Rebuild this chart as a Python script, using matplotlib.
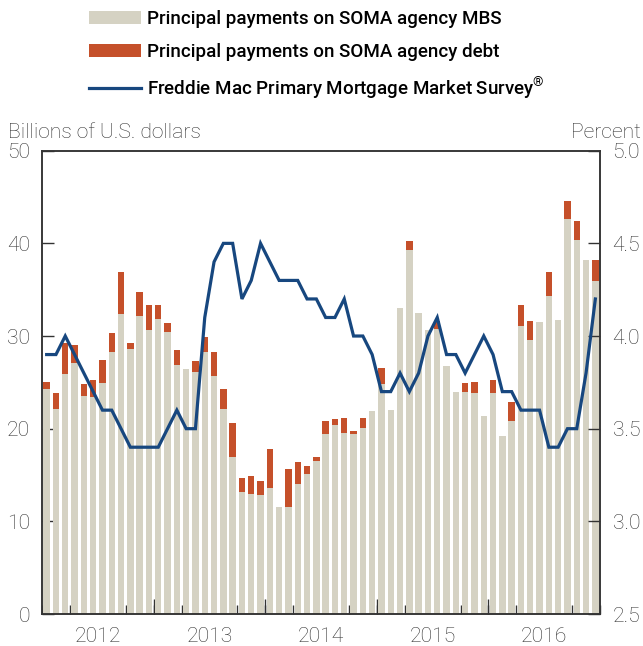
import matplotlib
matplotlib.use("Agg")
import matplotlib.pyplot as plt
import numpy as np
from matplotlib.lines import Line2D
from matplotlib.patches import Patch

# monthly, Jan 2012 .. Dec 2016 (billions of U.S. dollars)
MBS = [24.3, 22.1, 25.9, 27.1, 23.5, 23.4, 24.9, 28.3, 32.4, 28.6,
       32.2, 30.6, 31.8, 30.4, 26.9, 26.4, 26.1, 28.3, 25.7, 22.1,
       16.9, 13.2, 13.0, 12.8, 13.6, 11.5, 11.5, 14.0, 15.1, 16.5,
       19.4, 20.4, 19.5, 19.4, 20.1, 21.9, 24.8, 22.0, 33.0, 39.3,
       32.5, 30.7, 30.8, 26.8, 24.0, 24.0, 23.9, 21.4, 23.8, 19.2,
       20.8, 31.1, 29.6, 31.5, 34.3, 31.7, 42.6, 40.4, 38.2, 35.9]
DEBT = [0.7, 1.7, 3.3, 1.9, 1.3, 1.8, 2.5, 2.0, 4.5, 0.7,
        2.6, 2.8, 1.6, 1.0, 1.6, 0.0, 1.2, 1.6, 2.6, 2.2,
        3.7, 1.5, 1.9, 1.6, 4.2, 0.0, 4.1, 2.4, 0.9, 0.4,
        1.4, 0.6, 1.6, 0.3, 1.0, 0.0, 1.8, 0.0, 0.0, 1.0,
        0.0, 0.0, 0.8, 0.0, 0.0, 0.9, 1.1, 0.0, 1.5, 0.0,
        2.1, 2.2, 2.0, 0.0, 2.6, 0.0, 2.0, 2.0, 0.0, 2.3]
# Freddie Mac PMMS rate, percent
PMMS = [3.9, 3.9, 4.0, 3.9, 3.8, 3.7, 3.6, 3.6, 3.5, 3.4,
        3.4, 3.4, 3.4, 3.5, 3.6, 3.5, 3.5, 4.1, 4.4, 4.5,
        4.5, 4.2, 4.3, 4.5, 4.4, 4.3, 4.3, 4.3, 4.2, 4.2,
        4.1, 4.1, 4.2, 4.0, 4.0, 3.9, 3.7, 3.7, 3.8, 3.7,
        3.8, 4.0, 4.1, 3.9, 3.9, 3.8, 3.9, 4.0, 3.9, 3.7,
        3.7, 3.6, 3.6, 3.6, 3.4, 3.4, 3.5, 3.5, 3.8, 4.2]
YEARS = ["2012", "2013", "2014", "2015", "2016"]

LEGEND_LABELS = ["Principal payments on SOMA agency MBS",
                 "Principal payments on SOMA agency debt",
                 "Freddie Mac Primary Mortgage Market Survey$^{\u00ae}$"]

GRAY = "#d5d2c3"
ORANGE = "#c5502a"
NAVY = "#17477f"
INK = "#333333"
FS = 15.2

plt.rcParams["font.family"] = ["Roboto", "DejaVu Sans"]
plt.rcParams["mathtext.fontset"] = "custom"
plt.rcParams["mathtext.rm"] = "Roboto"

fig = plt.figure(figsize=(6.43, 6.46), dpi=100)
ax = fig.add_axes([42 / 643, 32 / 646, 558 / 643, 463.3 / 646])

x = np.arange(len(MBS))
ax.bar(x, MBS, width=0.68, color=GRAY, zorder=2)
ax.bar(x, DEBT, width=0.68, bottom=MBS, color=ORANGE, zorder=2)
ax.set_xlim(-0.5, len(MBS) - 0.5)
ax.set_ylim(0, 50)
ax.set_yticks(np.arange(0, 51, 10))

ax2 = ax.twinx()
ax2.plot(x, PMMS, color=NAVY, lw=2.3, zorder=3, solid_joinstyle="miter")
ax2.set_ylim(2.5, 5.0)
ax2.set_yticks(np.arange(2.5, 5.01, 0.5))
ax2.set_yticklabels([f"{v:.1f}" for v in np.arange(2.5, 5.01, 0.5)])

# year labels centred, quarter ticks, longer ticks at year boundaries
ax.set_xticks([5.5 + 12 * k for k in range(len(YEARS))])
ax.set_xticklabels(YEARS)
ax.set_xticks(np.arange(-0.5, len(MBS), 3), minor=True)
ax.tick_params(axis="x", which="major", length=0, pad=9)
ax.tick_params(axis="x", which="minor", direction="in", length=6.5,
               width=1.0, color=INK)
sec = ax.secondary_xaxis("bottom")
sec.set_xticks([-0.5 + 12 * k for k in range(1, len(YEARS))])
sec.set_xticklabels([])
sec.tick_params(direction="in", length=11, width=1.0, color=INK)
sec.spines["bottom"].set_visible(False)

for a in (ax, ax2):
    a.tick_params(axis="y", direction="in", length=8.5, width=1.0, color=INK,
                  labelsize=FS, labelcolor=INK)
    for s in a.spines.values():
        s.set_color(INK)
        s.set_linewidth(1.1)
ax.tick_params(axis="y", pad=8.5)
ax2.tick_params(axis="y", pad=9)
ax.tick_params(axis="x", labelsize=FS, labelcolor=INK)
for lab in ax.get_xticklabels() + ax.get_yticklabels() + ax2.get_yticklabels():
    lab.set_fontweight("light")

ax2.patch.set_visible(False)

fig.text(8 / 643, 1 - 132 / 646, "Billions of U.S. dollars", fontsize=FS,
         fontweight="light", color=INK, va="center", ha="left")
fig.text(641 / 643, 1 - 132 / 646, "Percent", fontsize=FS,
         fontweight="light", color=INK, va="center", ha="right")

handles = [Patch(facecolor=GRAY), Patch(facecolor=ORANGE),
           Line2D([], [], color=NAVY, lw=2.3)]
fig.legend(handles, LEGEND_LABELS, loc="upper left",
           bbox_to_anchor=(89 / 643, 1 - 10 / 646), frameon=False,
           borderpad=0, borderaxespad=0, handlelength=2.77,
           handleheight=0.7, handletextpad=0.32, labelspacing=0.78,
           prop={"weight": "medium", "size": 13.5})

fig.savefig("out.png", dpi=100)
